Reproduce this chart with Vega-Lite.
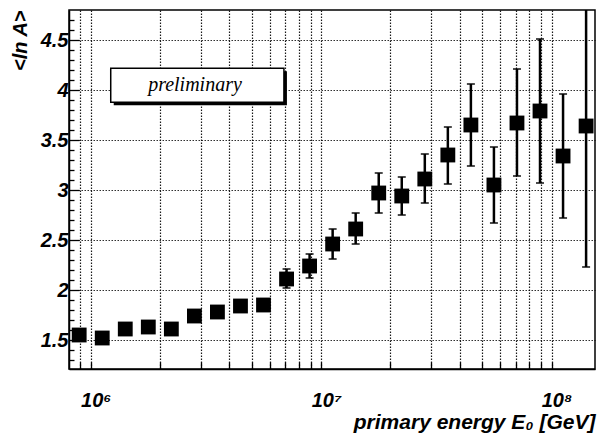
{
  "$schema": "https://vega.github.io/schema/vega-lite/v6.json",
  "autosize": {"type": "none"},
  "padding": {"left": 69, "top": 10, "right": 4, "bottom": 69},
  "width": 526,
  "height": 359,
  "background": "white",
  "config": {
    "view": {"stroke": "black", "strokeWidth": 1.5},
    "axis": {
      "domainColor": "black",
      "domainWidth": 1.5,
      "tickColor": "black",
      "tickWidth": 1.3,
      "gridColor": "black",
      "gridDash": [1.5, 1.5],
      "gridWidth": 1.2,
      "gridOpacity": 0.9,
      "labelColor": "black",
      "labelFont": "Liberation Sans",
      "labelFontWeight": "bold",
      "labelFontStyle": "italic",
      "labelFontSize": 20,
      "titleColor": "black",
      "titleFont": "Liberation Sans",
      "titleFontWeight": "bold",
      "titleFontStyle": "italic",
      "titleFontSize": 20
    }
  },
  "data": {
    "values": [
      {"E": 891251, "lnA": 1.55, "lo": 1.52, "hi": 1.58},
      {"E": 1122018, "lnA": 1.52, "lo": 1.49, "hi": 1.55},
      {"E": 1412538, "lnA": 1.61, "lo": 1.58, "hi": 1.64},
      {"E": 1778279, "lnA": 1.63, "lo": 1.6, "hi": 1.66},
      {"E": 2238721, "lnA": 1.61, "lo": 1.58, "hi": 1.64},
      {"E": 2818383, "lnA": 1.74, "lo": 1.71, "hi": 1.77},
      {"E": 3548134, "lnA": 1.78, "lo": 1.75, "hi": 1.81},
      {"E": 4466836, "lnA": 1.84, "lo": 1.8, "hi": 1.88},
      {"E": 5623413, "lnA": 1.85, "lo": 1.81, "hi": 1.89},
      {"E": 7079458, "lnA": 2.11, "lo": 2.02, "hi": 2.21},
      {"E": 8912509, "lnA": 2.24, "lo": 2.12, "hi": 2.36},
      {"E": 11220185, "lnA": 2.46, "lo": 2.31, "hi": 2.61},
      {"E": 14125375, "lnA": 2.61, "lo": 2.46, "hi": 2.77},
      {"E": 17782794, "lnA": 2.97, "lo": 2.77, "hi": 3.17},
      {"E": 22387211, "lnA": 2.94, "lo": 2.75, "hi": 3.13},
      {"E": 28183829, "lnA": 3.11, "lo": 2.87, "hi": 3.36},
      {"E": 35481339, "lnA": 3.35, "lo": 3.06, "hi": 3.63},
      {"E": 44668359, "lnA": 3.65, "lo": 3.24, "hi": 4.06},
      {"E": 56234133, "lnA": 3.05, "lo": 2.67, "hi": 3.43},
      {"E": 70794578, "lnA": 3.67, "lo": 3.14, "hi": 4.21},
      {"E": 89125094, "lnA": 3.79, "lo": 3.07, "hi": 4.51},
      {"E": 112201845, "lnA": 3.34, "lo": 2.72, "hi": 3.96},
      {"E": 141253754, "lnA": 3.64, "lo": 2.23, "hi": 5.05}
    ]
  },
  "layer": [
    {
      "data": {"values": [{"label": "preliminary"}]},
      "mark": {"type": "rect", "fill": "black", "xOffset": 3, "x2Offset": 3, "yOffset": 3, "y2Offset": 3},
      "encoding": {
        "x": {"datum": 1221500, "type": "quantitative", "scale": {"type": "log"}},
        "x2": {"datum": 6896000},
        "y": {"datum": 4.217, "type": "quantitative"},
        "y2": {"datum": 3.877}
      }
    },
    {
      "data": {"values": [{"label": "preliminary"}]},
      "mark": {"type": "rect", "fill": "white", "stroke": "black", "strokeWidth": 1.5},
      "encoding": {
        "x": {"datum": 1221500, "type": "quantitative", "scale": {"type": "log"}},
        "x2": {"datum": 6896000},
        "y": {"datum": 4.217, "type": "quantitative"},
        "y2": {"datum": 3.877}
      }
    },
    {
      "data": {"values": [{"label": "preliminary"}]},
      "mark": {"type": "text", "font": "Liberation Serif", "fontStyle": "italic", "fontSize": 20, "color": "black", "align": "center", "baseline": "middle"},
      "encoding": {
        "x": {"datum": 2835000, "type": "quantitative", "scale": {"type": "log"}},
        "y": {"datum": 4.05, "type": "quantitative"},
        "text": {"field": "label"}
      }
    },
    {
      "mark": {"type": "rule", "color": "black", "strokeWidth": 2.5, "clip": true},
      "encoding": {
        "x": {"field": "E", "type": "quantitative"},
        "y": {"field": "lo", "type": "quantitative"},
        "y2": {"field": "hi"}
      }
    },
    {
      "mark": {"type": "tick", "orient": "horizontal", "color": "black", "size": 8, "thickness": 2, "clip": true},
      "encoding": {
        "x": {"field": "E", "type": "quantitative"},
        "y": {"field": "lo", "type": "quantitative"}
      }
    },
    {
      "mark": {"type": "tick", "orient": "horizontal", "color": "black", "size": 8, "thickness": 2, "clip": true},
      "encoding": {
        "x": {"field": "E", "type": "quantitative"},
        "y": {"field": "hi", "type": "quantitative"}
      }
    },
    {
      "mark": {"type": "point", "shape": "square", "filled": true, "color": "black", "opacity": 1, "size": 220},
      "encoding": {
        "x": {
          "field": "E",
          "type": "quantitative",
          "scale": {"type": "log", "domain": [805000, 154400000], "nice": false},
          "axis": {
            "title": "primary energy E₀  [GeV]",
            "titleFontSize": 21,
            "titleX": 526,
            "titleY": 59,
            "titleAlign": "right",
            "titleBaseline": "alphabetic",
            "tickCount": 200,
            "values": [800000, 900000, 1000000, 2000000, 3000000, 4000000, 5000000, 6000000, 7000000, 8000000, 9000000, 10000000, 20000000, 30000000, 40000000, 50000000, 60000000, 70000000, 80000000, 90000000, 100000000],
            "labelExpr": "datum.value == 1000000 ? '10⁶' : datum.value == 10000000 ? '10⁷' : datum.value == 100000000 ? '10⁸' : ''",
            "tickSize": -7,
            "labelPadding": 28,
            "labelOffset": 5,
            "labelFlush": false,
            "labelOverlap": false,
            "grid": true
          }
        },
        "y": {
          "field": "lnA",
          "type": "quantitative",
          "scale": {"domain": [1.21, 4.8], "nice": false, "zero": false},
          "axis": {
            "title": "<ln A>",
            "titleAngle": -90,
            "titleX": -49,
            "titleY": 0,
            "titleAlign": "right",
            "titleBaseline": "middle",
            "tickCount": 200,
            "values": [1.3, 1.4, 1.5, 1.6, 1.7, 1.8, 1.9, 2, 2.1, 2.2, 2.3, 2.4, 2.5, 2.6, 2.7, 2.8, 2.9, 3, 3.1, 3.2, 3.3, 3.4, 3.5, 3.6, 3.7, 3.8, 3.9, 4, 4.1, 4.2, 4.3, 4.4, 4.5, 4.6, 4.7],
            "labelExpr": "indexof([1.5, 2, 2.5, 3, 3.5, 4, 4.5], datum.value) >= 0 ? datum.value + '' : ''",
            "tickSize": {"condition": {"test": "indexof([1.5, 2, 2.5, 3, 3.5, 4, 4.5], datum.value) >= 0", "value": -10}, "value": -5},
            "labelPadding": 11,
            "gridOpacity": {"condition": {"test": "indexof([1.5, 2, 2.5, 3, 3.5, 4, 4.5], datum.value) >= 0", "value": 0.9}, "value": 0},
            "labelFlush": false,
            "labelOverlap": false,
            "labelBaseline": "middle",
            "grid": true
          }
        }
      }
    }
  ]
}
